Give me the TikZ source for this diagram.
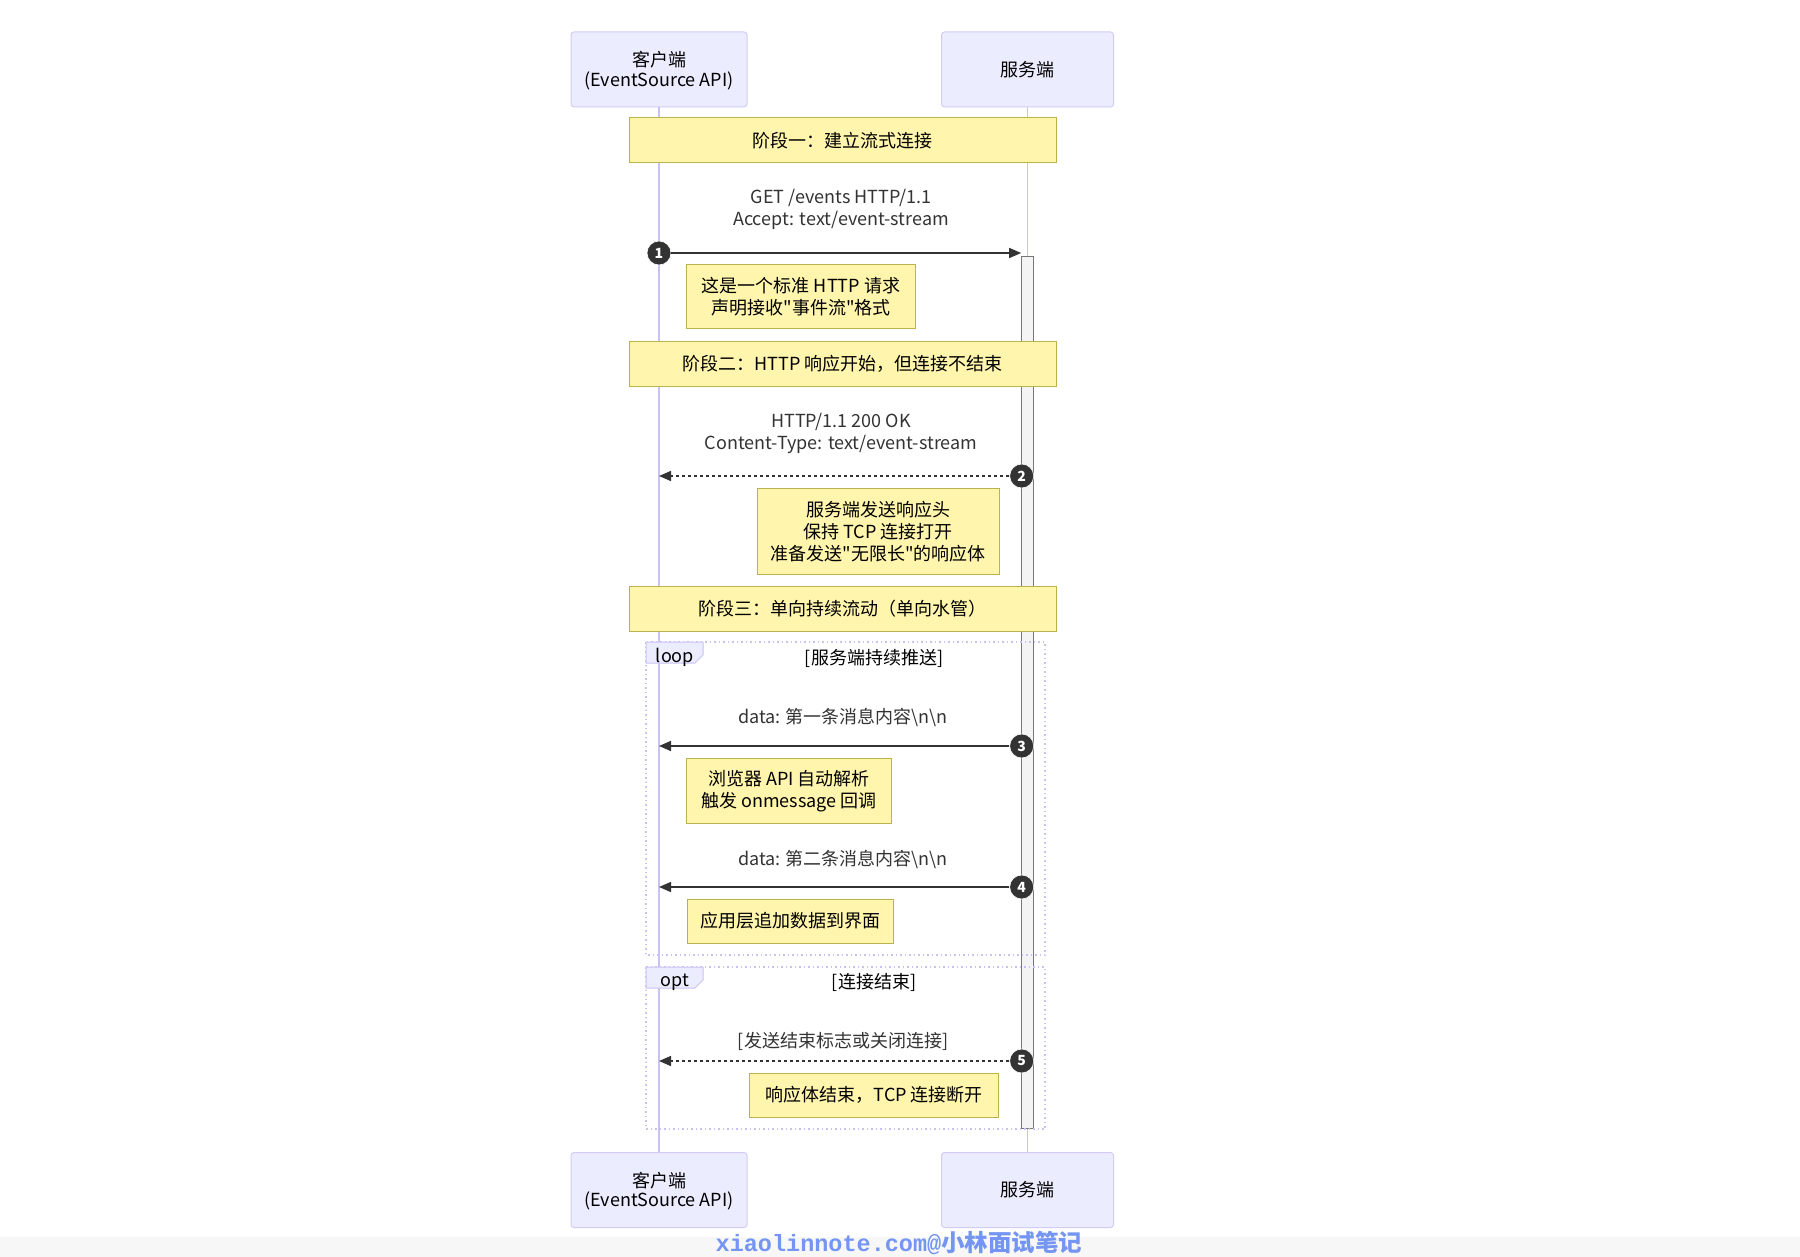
\documentclass[tikz,border=0pt]{standalone}
\usepackage{fontspec}
\setmainfont{Noto Sans CJK SC}[Ligatures=TeXOff]
\newfontfamily\wmmono{Liberation Mono}
\usetikzlibrary{arrows.meta}
\definecolor{actF}{HTML}{ECECFF}
\definecolor{actB}{HTML}{D2CCF4}
\definecolor{lifeC}{HTML}{C9C1F2}
\definecolor{noteF}{HTML}{FFF5AD}
\definecolor{noteB}{HTML}{B8B44A}
\definecolor{txt}{HTML}{333333}
\definecolor{msgC}{HTML}{333333}
\definecolor{actbarF}{HTML}{F4F4F4}
\definecolor{actbarB}{HTML}{777777}
\definecolor{loopC}{HTML}{C8C2F2}
\definecolor{wm}{HTML}{7595F2}
\newcommand\fs{\fontsize{18}{22}\selectfont}
\newcommand\fsa{\fontsize{18}{19.5}\selectfont}
\tikzset{
  actorbox/.style={draw=actB, fill=actF, rounded corners=3pt, line width=1pt,
    minimum width=176pt, minimum height=75pt, align=center, font=\fsa, text=black, inner sep=0pt},
  lifeline/.style={draw=lifeC, line width=1.6pt},
  phasenote/.style={draw=noteB, fill=noteF, line width=1pt, minimum width=427pt,
    minimum height=45pt, align=center, font=\fs, text=black, inner sep=0pt},
  notebox/.style={draw=noteB, fill=noteF, line width=1pt, align=center, font=\fs,
    text=black, inner sep=0pt},
  msglabel/.style={align=center, font=\fs, text=txt, inner sep=0pt},
  msgline/.style={draw=msgC, line width=1.5pt, -{Triangle[length=12pt,width=10pt]}},
  retline/.style={msgline, dash pattern=on 3pt off 3pt},
  seqnum/.style={circle, fill=msgC, draw=white, line width=0.6pt, minimum size=24pt, inner sep=0pt,
    text=white, font=\fontsize{14}{14}\selectfont\bfseries},
  actbar/.style={draw=actbarB, fill=actbarF, line width=1.2pt, minimum width=11.5pt,
    minimum height=872pt, inner sep=0pt},
  framebox/.style={draw=loopC, line width=1.5pt, dash pattern=on 1.5pt off 3pt},
  frametab/.style={draw=loopC, fill=actF, line width=1pt},
  framelabel/.style={font=\fs, text=black, inner sep=0pt},
}
\begin{document}
\begin{tikzpicture}[x=1pt,y=-1pt]
\fill[white] (0,0) rectangle (1800,1257);
\fill[black!3] (0,1237) rectangle (1800,1257);
\useasboundingbox (0,0) rectangle (1800,1257);

% actors
\node[actorbox] (ct) at (659,69.5) {\rule{0pt}{18pt}客户端\\(EventSource API)};
\node[actorbox, minimum width=172pt] (st) at (1027.5,69.5) {服务端};
\node[actorbox] (cb) at (659,1190) {\rule{0pt}{18pt}客户端\\(EventSource API)};
\node[actorbox, minimum width=172pt] (sb) at (1027.5,1190) {服务端};

% lifelines
\draw[lifeline] (ct.south) -- (cb.north);
\draw[lifeline] (st.south) -- (sb.north);

% activation bar
\node[actbar] (act) at (1027.5,692.3) {};

% loop frame
\draw[framebox] (646,642) rectangle (1045,955);
\draw[frametab] (646,642) -- (703,642) -- (703,655) -- (695,663) -- (646,663) -- cycle;
\node[framelabel] (looplbl) at (675,657.5) {loop};
\node[framelabel] (loopcond) at (874,658) {[服务端持续推送]};

% opt frame
\draw[framebox] (646,967) rectangle (1045,1129);
\draw[frametab] (646,967) -- (703,967) -- (703,980) -- (695,988) -- (646,988) -- cycle;
\node[framelabel] (optlbl) at (675,982) {opt};
\node[framelabel] (optcond) at (874,982) {[连接结束]};

% phase notes
\node[phasenote] (p1) at (842.5,140.5) {阶段一：建立流式连接};
\node[phasenote] (p2) at (842.5,364) {阶段二：HTTP 响应开始，但连接不结束};
\node[phasenote] (p3) at (842.5,609) {阶段三：单向持续流动（单向水管）};

% message 1
\node[msglabel] (m1) at (841,209.5) {GET /events HTTP/1.1\\Accept: text/event-stream};
\node[seqnum] (s1) at (659,253) {1};
\coordinate (e1) at (act.west |- s1);
\draw[msgline] (s1) -- (e1);
\node[notebox, minimum width=229pt, minimum height=64pt] (n1) at (801,297)
  {这是一个标准 HTTP 请求\\声明接收"事件流"格式};

% message 2
\node[msglabel] (m2) at (841,433.5) {HTTP/1.1 200 OK\\Content-Type: text/event-stream};
\node[seqnum] (s2) at (1021.7,476) {2};
\coordinate (e2) at (ct.south |- s2);
\draw[retline] (s2) -- (e2);
\node[notebox, minimum width=242pt, minimum height=86pt] (n2) at (878,531)
  {\rule{0pt}{17pt}服务端发送响应头\\保持 TCP 连接打开\\准备发送"无限长"的响应体};

% message 3
\node[msglabel] (m3) at (843,717.5) {data: 第一条消息内容\textbackslash n\textbackslash n};
\node[seqnum] (s3) at (1021.7,746) {3};
\coordinate (e3) at (ct.south |- s3);
\draw[msgline] (s3) -- (e3);
\node[notebox, minimum width=205pt, minimum height=65pt] (n3) at (789,790.5)
  {\rule{0pt}{17pt}浏览器 API 自动解析\\触发 onmessage 回调};

% message 4
\node[msglabel] (m4) at (843,859) {data: 第二条消息内容\textbackslash n\textbackslash n};
\node[seqnum] (s4) at (1021.7,887) {4};
\coordinate (e4) at (ct.south |- s4);
\draw[msgline] (s4) -- (e4);
\node[notebox, minimum width=206pt, minimum height=44pt] (n4) at (790,921)
  {应用层追加数据到界面};

% message 5
\node[msglabel] (m5) at (843,1041.5) {[发送结束标志或关闭连接]};
\node[seqnum] (s5) at (1021.7,1061) {5};
\coordinate (e5) at (ct.south |- s5);
\draw[retline] (s5) -- (e5);
\node[notebox, minimum width=249pt, minimum height=44pt] (n5) at (874.3,1095)
  {响应体结束，TCP 连接断开};

% watermark
\node[text=wm, font=\fontsize{23.5}{24}\selectfont\bfseries, inner sep=0pt] (wmk) at (899,1243)
  {{\wmmono\bfseries xiaolinnote.com@}小林面试笔记};
\end{tikzpicture}
\end{document}
